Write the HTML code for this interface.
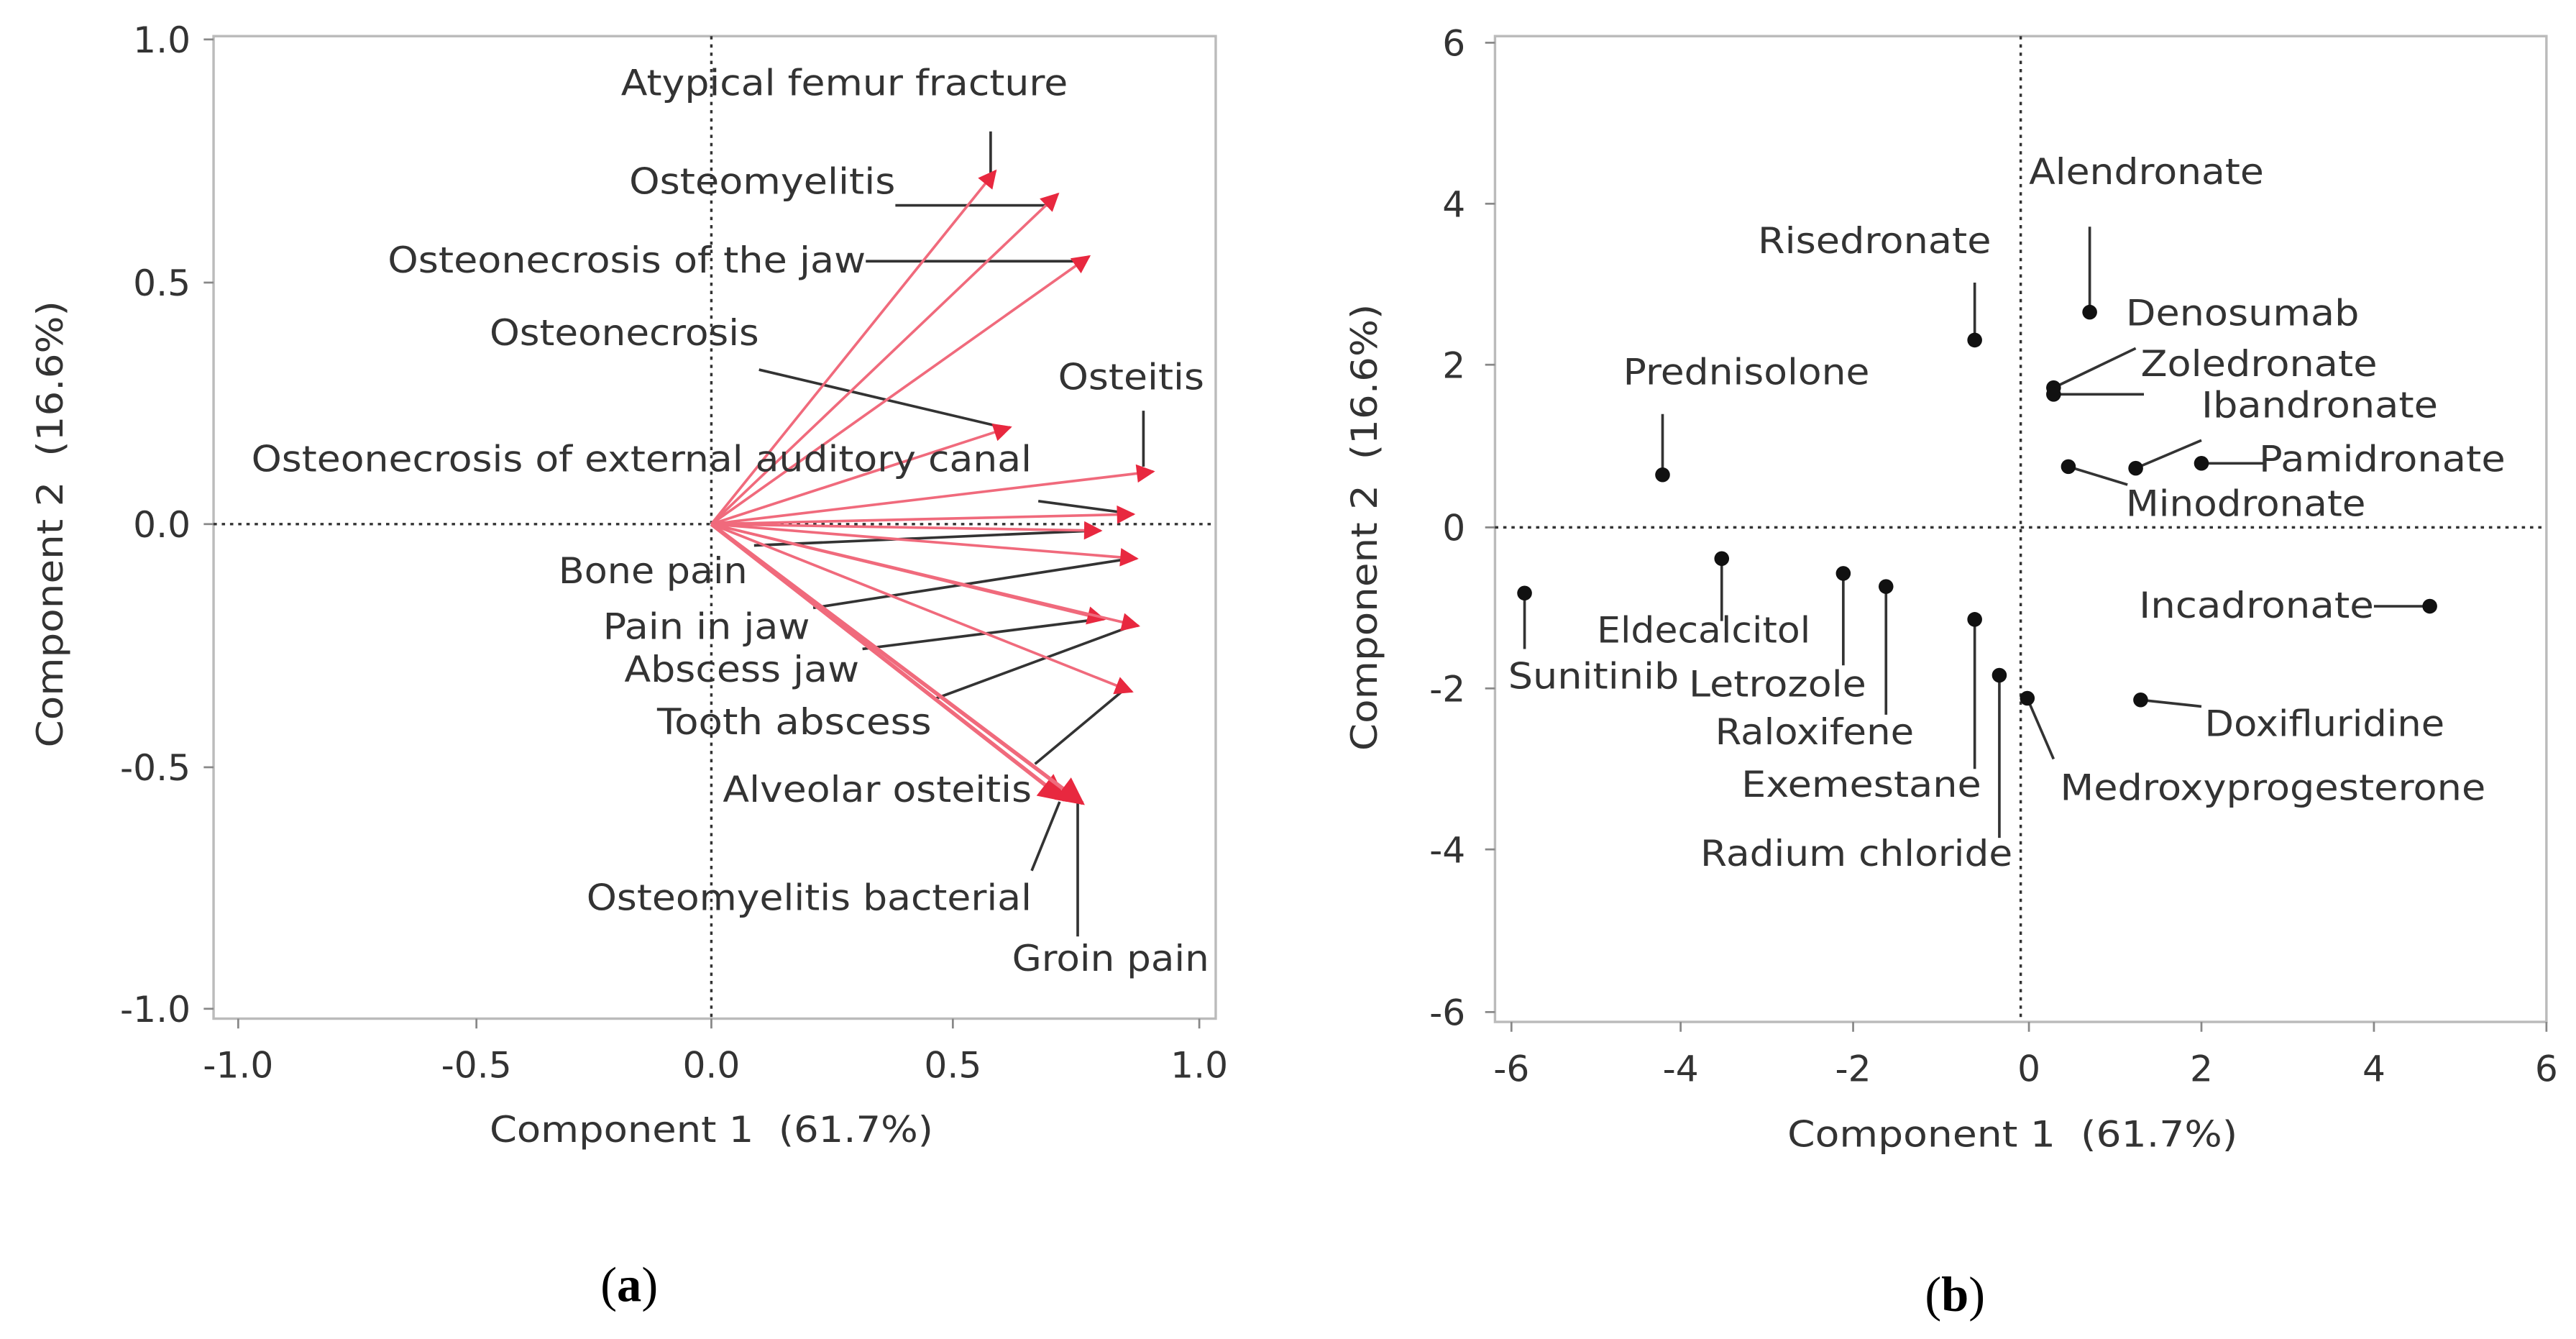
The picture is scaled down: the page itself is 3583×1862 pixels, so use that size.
<!DOCTYPE html>
<html><head><meta charset="utf-8"><style>
html,body{margin:0;padding:0;background:#fff;}
svg{display:block;}
text{font-family:"DejaVu Sans","Liberation Sans",sans-serif;fill:#333;}
</style></head><body>
<svg width="3583" height="1862" viewBox="0 0 1568 815" preserveAspectRatio="none" xmlns="http://www.w3.org/2000/svg">
<defs>
<marker id="ah" viewBox="0 0 10 10" refX="9" refY="5" markerWidth="8" markerHeight="7" markerUnits="strokeWidth" orient="auto">
<path d="M0,0 L10,5 L0,10 z" fill="#e8283f"/>
</marker>
</defs>
<!-- Panel A -->
<rect x="130" y="22" width="610" height="598" fill="none" stroke="#bbb" stroke-width="1.5"/>
<g stroke="#888" stroke-width="1.2">
<line x1="124" y1="24" x2="130" y2="24"/><line x1="124" y1="172" x2="130" y2="172"/><line x1="124" y1="319" x2="130" y2="319"/><line x1="124" y1="467" x2="130" y2="467"/><line x1="124" y1="614" x2="130" y2="614"/>
<line x1="145" y1="620" x2="145" y2="626"/><line x1="290" y1="620" x2="290" y2="626"/><line x1="433" y1="620" x2="433" y2="626"/><line x1="580" y1="620" x2="580" y2="626"/><line x1="730" y1="620" x2="730" y2="626"/>
</g>
<g font-size="22" text-anchor="end">
<text x="116" y="32">1.0</text><text x="116" y="180">0.5</text><text x="116" y="327">0.0</text><text x="116" y="475">-0.5</text><text x="116" y="622">-1.0</text>
</g>
<g font-size="22" text-anchor="middle">
<text x="145" y="656">-1.0</text><text x="290" y="656">-0.5</text><text x="433" y="656">0.0</text><text x="580" y="656">0.5</text><text x="730" y="656">1.0</text>
</g>
<text x="298" y="695" font-size="22" textLength="270" lengthAdjust="spacingAndGlyphs">Component 1&#160;&#160;(61.7%)</text>
<text transform="translate(38,455) rotate(-90)" font-size="22" textLength="272" lengthAdjust="spacingAndGlyphs">Component 2&#160;&#160;(16.6%)</text>
<g stroke="#333" stroke-width="1.5" stroke-dasharray="2,3">
<line x1="130" y1="319" x2="740" y2="319"/><line x1="433" y1="22" x2="433" y2="620"/>
</g>
<g stroke="#333" stroke-width="1.6" fill="none">
<line x1="603" y1="80" x2="603" y2="106"/>
<line x1="545" y1="125" x2="638" y2="125"/>
<line x1="527" y1="159" x2="655" y2="159"/>
<line x1="462" y1="225" x2="610" y2="260"/>
<line x1="696" y1="250" x2="696" y2="284"/>
<line x1="632" y1="305" x2="684" y2="312"/>
<line x1="459" y1="332" x2="666" y2="323"/>
<line x1="495" y1="370" x2="688" y2="340"/>
<line x1="525" y1="395" x2="668" y2="377"/>
<line x1="570" y1="425" x2="689" y2="381"/>
<line x1="630" y1="465" x2="684" y2="420"/>
<line x1="628" y1="530" x2="645" y2="488"/>
<line x1="656" y1="570" x2="656" y2="488"/>
</g>
<g stroke="#f06a7c" stroke-width="1.6" marker-end="url(#ah)">
<line x1="433" y1="319" x2="606" y2="104"/>
<line x1="433" y1="319" x2="644" y2="118"/>
<line x1="433" y1="319" x2="663" y2="156"/>
<line x1="433" y1="319" x2="615" y2="260"/>
<line x1="433" y1="319" x2="702" y2="287"/>
<line x1="433" y1="319" x2="690" y2="313"/>
<line x1="433" y1="319" x2="670" y2="323"/>
<line x1="433" y1="319" x2="692" y2="340"/>
<line x1="433" y1="319" x2="672" y2="377"/>
<line x1="433" y1="319" x2="693" y2="381"/>
<line x1="433" y1="319" x2="689" y2="421"/>
<line x1="433" y1="319" x2="648" y2="487" stroke-width="2.4"/>
<line x1="433" y1="319" x2="659" y2="489" stroke-width="2.4"/>
</g>
<g font-size="22" lengthAdjust="spacingAndGlyphs">
<text x="378" y="58" textLength="272" lengthAdjust="spacingAndGlyphs">Atypical femur fracture</text>
<text x="383" y="118" textLength="162" lengthAdjust="spacingAndGlyphs">Osteomyelitis</text>
<text x="236" y="166" textLength="291" lengthAdjust="spacingAndGlyphs">Osteonecrosis of the jaw</text>
<text x="298" y="210" textLength="164" lengthAdjust="spacingAndGlyphs">Osteonecrosis</text>
<text x="644" y="237" textLength="89" lengthAdjust="spacingAndGlyphs">Osteitis</text>
<text x="153" y="287" textLength="475" lengthAdjust="spacingAndGlyphs">Osteonecrosis of external auditory canal</text>
<text x="340" y="355" textLength="115" lengthAdjust="spacingAndGlyphs">Bone pain</text>
<text x="367" y="389" textLength="126" lengthAdjust="spacingAndGlyphs">Pain in jaw</text>
<text x="380" y="415" textLength="143" lengthAdjust="spacingAndGlyphs">Abscess jaw</text>
<text x="400" y="447" textLength="167" lengthAdjust="spacingAndGlyphs">Tooth abscess</text>
<text x="440" y="488" textLength="188" lengthAdjust="spacingAndGlyphs">Alveolar osteitis</text>
<text x="357" y="554" textLength="271" lengthAdjust="spacingAndGlyphs">Osteomyelitis bacterial</text>
<text x="616" y="591" textLength="120" lengthAdjust="spacingAndGlyphs">Groin pain</text>
</g>
<text x="383" y="792" font-size="30" text-anchor="middle" style="font-family:'Liberation Serif',serif;fill:#000">(<tspan font-weight="bold">a</tspan>)</text>

<!-- Panel B -->
<rect x="910" y="22" width="640" height="600" fill="none" stroke="#bbb" stroke-width="1.5"/>
<g stroke="#888" stroke-width="1.2">
<line x1="904" y1="26" x2="910" y2="26"/><line x1="904" y1="124" x2="910" y2="124"/><line x1="904" y1="222" x2="910" y2="222"/><line x1="904" y1="321" x2="910" y2="321"/><line x1="904" y1="419" x2="910" y2="419"/><line x1="904" y1="517" x2="910" y2="517"/><line x1="904" y1="616" x2="910" y2="616"/>
<line x1="920" y1="622" x2="920" y2="628"/><line x1="1023" y1="622" x2="1023" y2="628"/><line x1="1128" y1="622" x2="1128" y2="628"/><line x1="1235" y1="622" x2="1235" y2="628"/><line x1="1340" y1="622" x2="1340" y2="628"/><line x1="1445" y1="622" x2="1445" y2="628"/><line x1="1550" y1="622" x2="1550" y2="628"/>
</g>
<g font-size="22" text-anchor="end">
<text x="892" y="34">6</text><text x="892" y="132">4</text><text x="892" y="230">2</text><text x="892" y="329">0</text><text x="892" y="427">-2</text><text x="892" y="525">-4</text><text x="892" y="624">-6</text>
</g>
<g font-size="22" text-anchor="middle">
<text x="920" y="658">-6</text><text x="1023" y="658">-4</text><text x="1128" y="658">-2</text><text x="1235" y="658">0</text><text x="1340" y="658">2</text><text x="1445" y="658">4</text><text x="1550" y="658">6</text>
</g>
<text x="1088" y="698" font-size="22" textLength="274" lengthAdjust="spacingAndGlyphs">Component 1&#160;&#160;(61.7%)</text>
<text transform="translate(838,457) rotate(-90)" font-size="22" textLength="272" lengthAdjust="spacingAndGlyphs">Component 2&#160;&#160;(16.6%)</text>
<g stroke="#333" stroke-width="1.5" stroke-dasharray="2,3">
<line x1="910" y1="321" x2="1550" y2="321"/><line x1="1230" y1="22" x2="1230" y2="622"/>
</g>
<g stroke="#333" stroke-width="1.6" fill="none">
<line x1="1272" y1="138" x2="1272" y2="190"/>
<line x1="1202" y1="172" x2="1202" y2="207"/>
<line x1="1012" y1="252" x2="1012" y2="289"/>
<line x1="1250" y1="236" x2="1300" y2="212"/>
<line x1="1250" y1="240" x2="1305" y2="240"/>
<line x1="1300" y1="285" x2="1340" y2="268"/>
<line x1="1340" y1="282" x2="1378" y2="282"/>
<line x1="1259" y1="284" x2="1295" y2="295"/>
<line x1="1445" y1="369" x2="1479" y2="369"/>
<line x1="1303" y1="426" x2="1340" y2="430"/>
<line x1="1234" y1="425" x2="1250" y2="462"/>
<line x1="1217" y1="411" x2="1217" y2="510"/>
<line x1="1202" y1="377" x2="1202" y2="468"/>
<line x1="1148" y1="357" x2="1148" y2="435"/>
<line x1="1122" y1="349" x2="1122" y2="405"/>
<line x1="1048" y1="340" x2="1048" y2="378"/>
<line x1="928" y1="361" x2="928" y2="395"/>
</g>
<g fill="#111">
<circle cx="1272" cy="190" r="4.5"/><circle cx="1202" cy="207" r="4.5"/><circle cx="1012" cy="289" r="4.5"/>
<circle cx="1250" cy="236" r="4.5"/><circle cx="1250" cy="240" r="4.5"/><circle cx="1300" cy="285" r="4.5"/>
<circle cx="1340" cy="282" r="4.5"/><circle cx="1259" cy="284" r="4.5"/><circle cx="1479" cy="369" r="4.5"/>
<circle cx="1303" cy="426" r="4.5"/><circle cx="1234" cy="425" r="4.5"/><circle cx="1217" cy="411" r="4.5"/>
<circle cx="1202" cy="377" r="4.5"/><circle cx="1148" cy="357" r="4.5"/><circle cx="1122" cy="349" r="4.5"/>
<circle cx="1048" cy="340" r="4.5"/><circle cx="928" cy="361" r="4.5"/>
</g>
<g font-size="22">
<text x="1235" y="112" textLength="143" lengthAdjust="spacingAndGlyphs">Alendronate</text>
<text x="1070" y="154" textLength="142" lengthAdjust="spacingAndGlyphs">Risedronate</text>
<text x="1294" y="198" textLength="142" lengthAdjust="spacingAndGlyphs">Denosumab</text>
<text x="1303" y="229" textLength="144" lengthAdjust="spacingAndGlyphs">Zoledronate</text>
<text x="988" y="234" textLength="150" lengthAdjust="spacingAndGlyphs">Prednisolone</text>
<text x="1340" y="254" textLength="144" lengthAdjust="spacingAndGlyphs">Ibandronate</text>
<text x="1375" y="287" textLength="150" lengthAdjust="spacingAndGlyphs">Pamidronate</text>
<text x="1294" y="314" textLength="146" lengthAdjust="spacingAndGlyphs">Minodronate</text>
<text x="1302" y="376" textLength="143" lengthAdjust="spacingAndGlyphs">Incadronate</text>
<text x="972" y="391" textLength="130" lengthAdjust="spacingAndGlyphs">Eldecalcitol</text>
<text x="918" y="419" textLength="104" lengthAdjust="spacingAndGlyphs">Sunitinib</text>
<text x="1028" y="424" textLength="108" lengthAdjust="spacingAndGlyphs">Letrozole</text>
<text x="1342" y="448" textLength="146" lengthAdjust="spacingAndGlyphs">Doxifluridine</text>
<text x="1044" y="453" textLength="121" lengthAdjust="spacingAndGlyphs">Raloxifene</text>
<text x="1060" y="485" textLength="146" lengthAdjust="spacingAndGlyphs">Exemestane</text>
<text x="1254" y="487" textLength="259" lengthAdjust="spacingAndGlyphs">Medroxyprogesterone</text>
<text x="1035" y="527" textLength="190" lengthAdjust="spacingAndGlyphs">Radium chloride</text>
</g>
<text x="1190" y="798" font-size="30" text-anchor="middle" style="font-family:'Liberation Serif',serif;fill:#000">(<tspan font-weight="bold">b</tspan>)</text>
</svg>
</body></html>
